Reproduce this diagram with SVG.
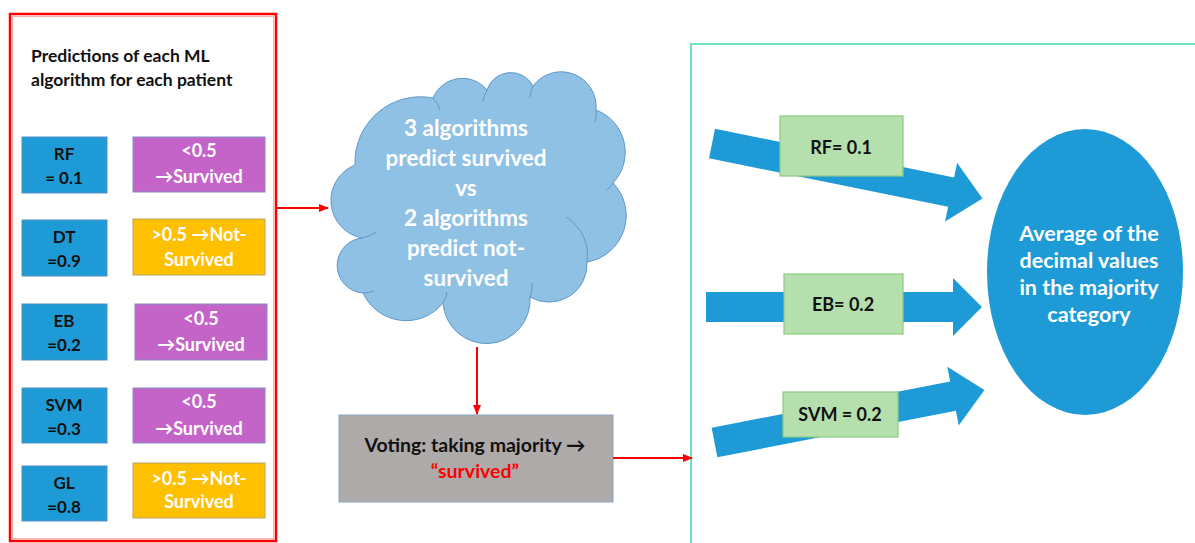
<svg xmlns="http://www.w3.org/2000/svg" width="1195" height="543" viewBox="0 0 1195 543">
<defs>
<marker id="ah" viewBox="0 0 10 10" refX="9" refY="5" markerWidth="5" markerHeight="5" orient="auto" markerUnits="strokeWidth"><path d="M0,1 L10,5 L0,9 z" fill="#FF0000"/></marker>
<style>
text{font-family:Lato,"Liberation Sans",sans-serif;font-weight:bold;text-anchor:middle}
.blue{fill:#1E9BD7;stroke:#4E8FC0;stroke-width:1}
.purple{fill:#C464C9;stroke:#7E8FC0;stroke-width:1}
.yellow{fill:#FFC000;stroke:#B9A36A;stroke-width:1}
.green{fill:#B6DFAE;stroke:#8DCB7C;stroke-width:1.2}
.bt{font-size:17px;fill:#111}
.wt{font-size:18px;fill:#fff}
.gl{font-size:18px;fill:#111}
.conn{stroke:#FF0000;stroke-width:2;fill:none;marker-end:url(#ah)}
.barrow{fill:#1E9BD7}
</style>
</defs>
<rect width="1195" height="543" fill="#fff"/>

<g id="left-panel">
<rect x="10" y="14" width="266" height="527" fill="#fff" stroke="#FF0000" stroke-width="2.5"/>
<rect x="12.5" y="16.5" width="261" height="522" fill="none" stroke="#FFB0B0" stroke-width="1"/>
<text x="31" y="62" style="font-size:17.5px;fill:#111;text-anchor:start">Predictions  of each ML</text>
<text x="31" y="86" style="font-size:17.5px;fill:#111;text-anchor:start">algorithm  for each patient</text>
</g>

<g id="rf-value"><rect class="blue" x="22" y="137" width="85" height="56"/><text class="bt" x="64" y="160">RF</text><text class="bt" x="64" y="184">= 0.1</text></g>
<g id="rf-class"><rect class="purple" x="133" y="137" width="132" height="55"/><text class="wt" x="199" y="157">&lt;0.5</text><text class="wt" x="199" y="183">→Survived</text></g>

<g id="dt-value"><rect class="blue" x="22" y="220" width="85" height="56"/><text class="bt" x="64" y="243">DT</text><text class="bt" x="64" y="267">=0.9</text></g>
<g id="dt-class"><rect class="yellow" x="133" y="219" width="132" height="56"/><text class="wt" x="199" y="241">&gt;0.5 →Not-</text><text class="wt" x="199" y="266">Survived</text></g>

<g id="eb-value"><rect class="blue" x="22" y="304" width="85" height="56"/><text class="bt" x="64" y="327">EB</text><text class="bt" x="64" y="351">=0.2</text></g>
<g id="eb-class"><rect class="purple" x="135" y="304" width="132" height="56"/><text class="wt" x="201" y="325">&lt;0.5</text><text class="wt" x="201" y="351">→Survived</text></g>

<g id="svm-value"><rect class="blue" x="22" y="388" width="85" height="55"/><text class="bt" x="64" y="411">SVM</text><text class="bt" x="64" y="435">=0.3</text></g>
<g id="svm-class"><rect class="purple" x="133" y="388" width="132" height="55"/><text class="wt" x="199" y="408">&lt;0.5</text><text class="wt" x="199" y="435">→Survived</text></g>

<g id="gl-value"><rect class="blue" x="22" y="466" width="85" height="55"/><text class="bt" x="64" y="489">GL</text><text class="bt" x="64" y="513">=0.8</text></g>
<g id="gl-class"><rect class="yellow" x="133" y="463" width="132" height="55"/><text class="wt" x="199" y="485">&gt;0.5 →Not-</text><text class="wt" x="199" y="508">Survived</text></g>

<g id="cloud">
<path d="M355,165 A65.5,65.5 0 0 1 433,98 A31.8,31.8 0 0 1 487,90 A25,25 0 0 1 533,86 A35,35 0 0 1 596,110 A45,45 0 0 1 613,183 A47,47 0 0 1 587,262 A38,38 0 0 1 530,297 A43.6,43.6 0 0 1 443,303 A47.4,47.4 0 0 1 363,293 A27.6,27.6 0 0 1 362,238 A38.2,38.2 0 0 1 355,165 Z" fill="#8FC1E5" stroke="#5E97C8" stroke-width="1"/>
<g fill="none" stroke="#5E97C8" stroke-width="1">
<path d="M362,238 A30,30 0 0 0 376,232"/>
<path d="M433,98 A30,30 0 0 1 440,110"/>
<path d="M487,90 A30,30 0 0 0 483,102"/>
<path d="M533,86 A30,30 0 0 0 530,97"/>
<path d="M596,110 A30,30 0 0 1 595,122"/>
<path d="M613,183 A30,30 0 0 1 607,190"/>
<path d="M587,262 A45,45 0 0 0 566,217"/>
<path d="M530,297 A30,30 0 0 0 532,283"/>
<path d="M443,303 A30,30 0 0 0 447,292"/>
<path d="M363,293 A30,30 0 0 0 374,291"/>
</g>
<g style="font-size:22.5px;fill:#fff">
<text x="466" y="136">3 algorithms</text>
<text x="466" y="166">predict survived</text>
<text x="466" y="196">vs</text>
<text x="466" y="226">2 algorithms</text>
<text x="466" y="256">predict not-</text>
<text x="466" y="286">survived</text>
</g>
</g>

<g id="voting">
<rect x="339" y="415" width="274" height="87" fill="#AEAAAA" stroke="#8AA4C0" stroke-width="1"/>
<text x="475" y="452" style="font-size:19.5px;fill:#111">Voting: taking majority →</text>
<text x="475" y="478" style="font-size:19.5px;fill:#FF0000">“survived”</text>
</g>

<g id="right-panel">
<rect x="691" y="44" width="520" height="520" fill="none" stroke="#3FDBA6" stroke-width="1.5"/>
</g>

<g id="average">
<ellipse cx="1085" cy="272" rx="98" ry="143" fill="#1E9BD7"/>
<g style="font-size:21.5px;fill:#fff">
<text x="1089" y="241">Average of the</text>
<text x="1089" y="268">decimal values</text>
<text x="1089" y="295">in the majority</text>
<text x="1089" y="322">category</text>
</g>
</g>

<g id="connectors">
<line class="conn" x1="276" y1="208" x2="328" y2="208"/>
<line class="conn" x1="477" y1="347" x2="477" y2="414"/>
<line class="conn" x1="613" y1="458" x2="692" y2="458"/>
<polygon class="barrow" transform="translate(712,143.5) rotate(11.5)" points="0,-15 244,-15 244,-30 276,0 244,30 244,15 0,15"/>
<polygon class="barrow" transform="translate(706,307) rotate(0)" points="0,-15 247,-15 247,-29 276,0 247,29 247,15 0,15"/>
<polygon class="barrow" transform="translate(714.5,442.5) rotate(-11)" points="0,-15 243,-15 243,-30 275,0 243,30 243,15 0,15"/>
</g>

<g id="rf-label"><rect class="green" x="780" y="116" width="123" height="60"/><text class="gl" x="841" y="154">RF= 0.1</text></g>
<g id="eb-label"><rect class="green" x="784" y="274" width="119" height="60"/><text class="gl" x="843" y="311">EB= 0.2</text></g>
<g id="svm-label"><rect class="green" x="783" y="392" width="115" height="45"/><text class="gl" x="840" y="421">SVM = 0.2</text></g>
</svg>
